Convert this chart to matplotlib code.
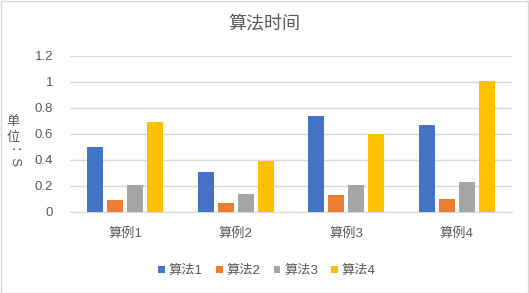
import numpy as np
import matplotlib.pyplot as plt
from matplotlib.patches import Rectangle

plt.rcParams['font.family'] = ['Liberation Sans', 'Noto Sans CJK SC', 'DejaVu Sans']

cases = ['算例1', '算例2', '算例3', '算例4']
algos = ['算法1', '算法2', '算法3', '算法4']
alg1 = [0.50, 0.31, 0.74, 0.67]
alg2 = [0.09, 0.07, 0.13, 0.10]
alg3 = [0.21, 0.14, 0.21, 0.23]
alg4 = [0.69, 0.39, 0.60, 1.01]
yticks = [0, 0.2, 0.4, 0.6, 0.8, 1, 1.2]
yticklabels = ['0', '0.2', '0.4', '0.6', '0.8', '1', '1.2']

colors = ['#4472C4', '#ED7D31', '#A5A5A5', '#FFC000']
txt = '#595959'

W, H = 529, 293
fig = plt.figure(figsize=(W / 100, H / 100), dpi=100)
ax = fig.add_axes([70 / W, (H - 212) / H, (512 - 70) / W, (212 - 56) / H])

x = np.arange(len(cases))
step = 0.181
width = 0.145
for i, (vals, name) in enumerate(zip([alg1, alg2, alg3, alg4], algos)):
    ax.bar(x + (i - 1.5) * step, vals, width, color=colors[i], label=name, zorder=3)

ax.set_xlim(-0.5, 3.5)
ax.set_ylim(0, 1.2)
ax.set_yticks(yticks)
ax.set_yticklabels(yticklabels)
ax.set_xticks(x)
ax.set_xticklabels(cases)
ax.tick_params(axis='both', length=0, labelsize=9.5, colors=txt)
ax.tick_params(axis='y', pad=12)
ax.tick_params(axis='x', pad=11)
ax.grid(axis='y', color='#D9D9D9', linewidth=1, zorder=0)
for s in ['top', 'right', 'left']:
    ax.spines[s].set_visible(False)
ax.spines['bottom'].set_color('#D9D9D9')

fig.text(0.5, (H - 25) / H, '算法时间', ha='center', va='center', fontsize=13, color=txt)

# vertical axis title: CJK upright, rest rotated
fig.text(13 / W, (H - 122) / H, '单', ha='center', va='center', fontsize=9.5, color=txt)
fig.text(13 / W, (H - 138) / H, '位', ha='center', va='center', fontsize=9.5, color=txt)
fig.text(13 / W, (H - 158) / H, '：S', ha='center', va='center', fontsize=9.5, color=txt, rotation=-90)

ax.legend(loc='center', bbox_to_anchor=(267 / W, (H - 271) / H), bbox_transform=fig.transFigure,
          ncol=4, frameon=False, fontsize=9.5, handlelength=0.5, handleheight=0.5,
          handletextpad=0.3, columnspacing=1.0, labelcolor=txt)

fig.add_artist(Rectangle((0.5 / W, 0.5 / H), 1 - 1.5 / W, 1 - 1.5 / H, transform=fig.transFigure,
                         fill=False, edgecolor='#D9D9D9', linewidth=1))

fig.savefig('out.png', dpi=100)
